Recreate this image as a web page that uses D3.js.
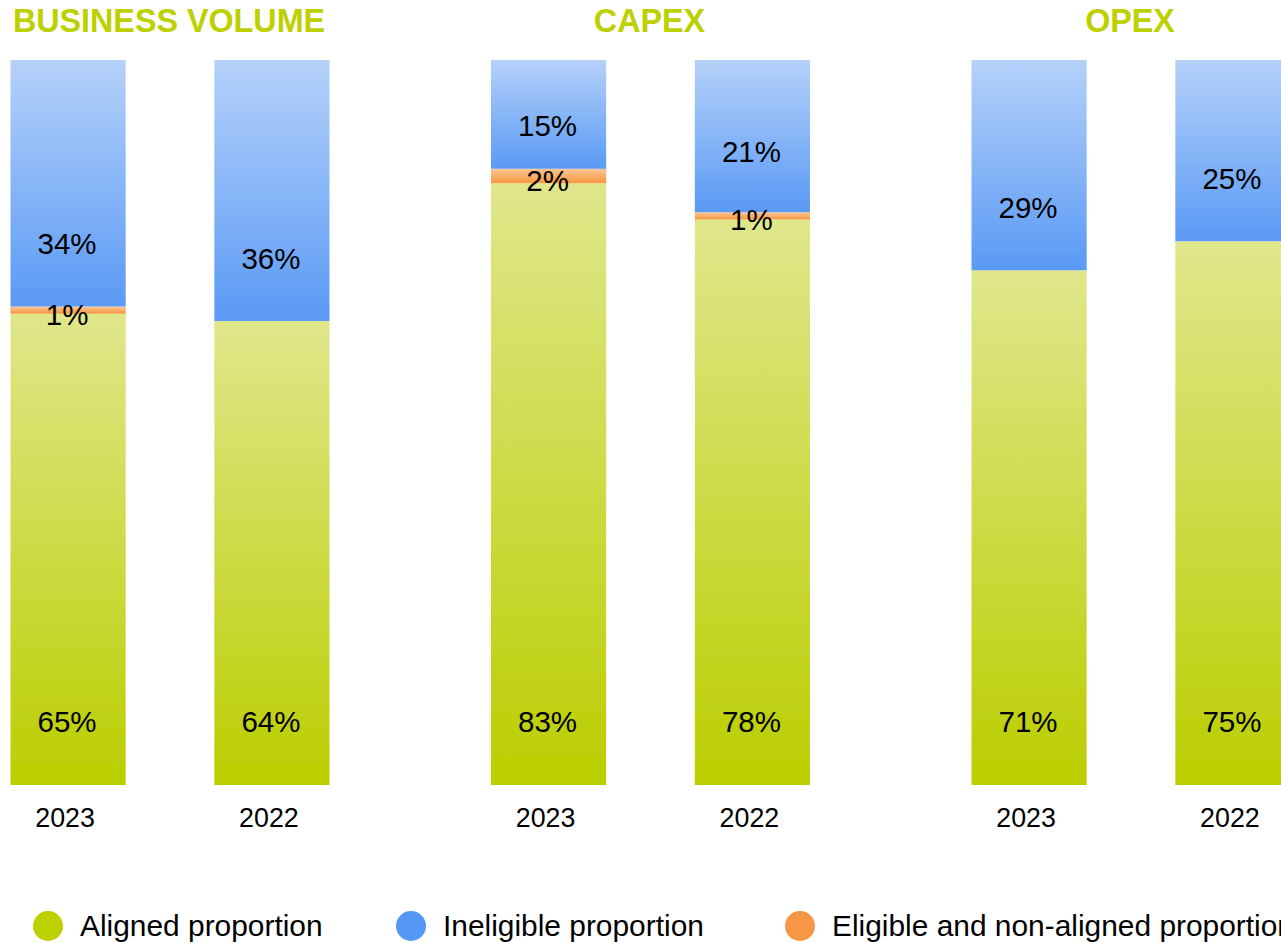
<!DOCTYPE html>
<html><head><meta charset="utf-8">
<script src="https://cdn.jsdelivr.net/npm/d3@7"></script>
<style>body{margin:0;background:#fff;overflow:hidden}svg{display:block}text{font-family:"Liberation Sans",Arial,sans-serif}</style>
</head><body><svg id="c" width="1281" height="943"></svg>
<script>
const groups = ["BUSINESS VOLUME","CAPEX","OPEX"];
const years = ["2023","2022"];
const aligned    = [[65,64],[83,78],[71,75]];
const eligibleNA = [[1,0],[2,1],[0,0]];
const ineligible = [[34,36],[15,21],[29,25]];
const seriesNames = ["Aligned proportion","Ineligible proportion","Eligible and non-aligned proportion"];

const svg = d3.select("#c");
const defs = svg.append("defs");
function grad(id, top, bottom){
  const g = defs.append("linearGradient").attr("id",id).attr("x1",0).attr("y1",0).attr("x2",0).attr("y2",1);
  g.append("stop").attr("offset","0%").attr("stop-color",top);
  g.append("stop").attr("offset","100%").attr("stop-color",bottom);
}
grad("gA","#dfe78b","#bbce00");
grad("gI","#b5d1f9","#5a9af5");
grad("gE","#fbc796","#f7963f");
defs.append("filter").attr("id","soft").append("feGaussianBlur").attr("stdDeviation",0.7);

const gx = d3.scalePoint().domain(groups).range([169,1130]);
const bx = d3.scaleBand().domain(years).range([-158.5,160.5]).paddingInner(0.435).paddingOuter(0);
const y = d3.scaleLinear().domain([0,100]).range([785,60]);

const data = [];
groups.forEach((g,gi)=>years.forEach((yr,yi)=>{
  const a = aligned[gi][yi], e = eligibleNA[gi][yi], n = ineligible[gi][yi];
  data.push({g,yr,segs:[
    {k:"A",v:a,y0:0,y1:a,fill:"url(#gA)"},
    {k:"E",v:e,y0:a,y1:a+e,fill:"url(#gE)"},
    {k:"I",v:n,y0:a+e,y1:a+e+n,fill:"url(#gI)"}
  ]});
}));

const bars = svg.append("g").attr("filter","url(#soft)");
data.forEach(d=>{
  const x0 = gx(d.g)+bx(d.yr);
  d.segs.filter(s=>s.v>0).forEach(s=>{
    bars.append("rect").attr("x",x0).attr("width",bx.bandwidth())
      .attr("y",y(s.y1)).attr("height",y(s.y0)-y(s.y1)).attr("fill",s.fill);
  });
});

const lab = svg.append("g").attr("font-size",29.5).attr("fill","#000").attr("text-anchor","middle");
data.forEach(d=>{
  const cx = gx(d.g)+bx(d.yr)+bx.bandwidth()/2;
  d.segs.filter(s=>s.v>0).forEach(s=>{
    let cy;
    const bot = y(s.y0), top = y(s.y1), h = bot-top;
    if(s.k==="A") cy = y(0)-64;
    else if(s.k==="E") cy = (bot+top)/2+4;
    else cy = bot - Math.min(63, 0.4*h);
    lab.append("text").attr("x",cx-1).attr("y",cy).attr("dy","0.36em").text(s.v+"%");
  });
  svg.append("text").attr("x",cx-3).attr("y",827).attr("text-anchor","middle").attr("font-size",26.8).attr("fill","#000").text(d.yr);
});

svg.append("g").selectAll("text").data(groups).join("text")
  .attr("x",d=>gx(d)).attr("y",32).attr("text-anchor","middle")
  .attr("font-size",32.3).attr("font-weight","bold").attr("fill","#bdd000").text(d=>d);

const legColors = ["#bdd000","#5497f5","#f79646"];
const legX = [48,411,800];
const leg = svg.append("g");
seriesNames.forEach((n,i)=>{
  leg.append("circle").attr("cx",legX[i]).attr("cy",926).attr("r",15).attr("fill",legColors[i]);
  leg.append("text").attr("x",legX[i]+32).attr("y",936).attr("font-size",29.9).attr("fill","#000").text(n);
});
</script></body></html>
